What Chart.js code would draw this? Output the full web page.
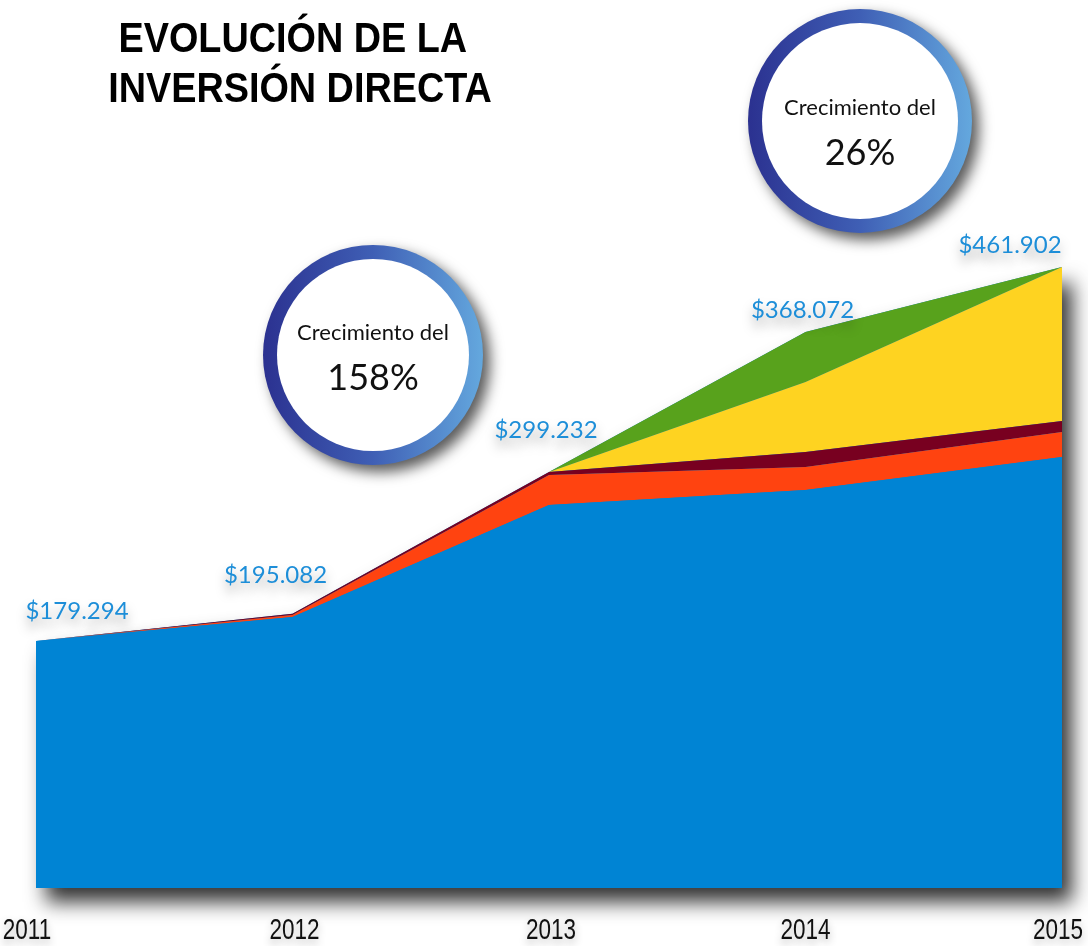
<!DOCTYPE html>
<html>
<head>
<meta charset="utf-8">
<script src="https://cdn.jsdelivr.net/npm/chart.js@4/dist/chart.umd.min.js"></script>
<style>
  html, body { margin: 0; padding: 0; background: #fff; }
  #wrap { width: 1088px; height: 946px; position: relative; }
</style>
</head>
<body>
<div id="wrap"><canvas id="areaInversion"></canvas></div>
<script>
// Datos (miles de dólares)
const years = ['2011', '2012', '2013', '2014', '2015'];
const serieAzul   = [179.0, 196.4, 277.5, 288.4, 312.3];
const serieRoja   = [0, 1.5, 21.7, 16.7, 18.1];
const serieGranate = [0, 0.8, 2.2, 10.9, 8.0];
const serieAmarilla = [0, 0, 0, 50.7, 111.6];
const serieVerde  = [0, 0, 0, 36.2, 0];
const totalLabels = ['$179.294', '$195.082', '$299.232', '$368.072', '$461.902'];
const crecimientos = ['158%', '26%'];

const colores = {
    azul: '#0084d4',
    roja: '#ff4310',
    granate: '#780020',
    amarilla: '#fed321',
    verde: '#58a21c'
};

// sombra bajo toda el área apilada
const sombraArea = {
    id: 'sombraArea',
    beforeDatasetsDraw(chart) {
        const ctx = chart.ctx;
        const top = chart.getDatasetMeta(chart.data.datasets.length - 1).data;
        const bottom = chart.chartArea.bottom;
        ctx.save();
        ctx.shadowColor = 'rgba(0,0,0,0.8)';
        ctx.shadowBlur = 20;
        ctx.shadowOffsetX = 10;
        ctx.shadowOffsetY = 14;
        ctx.beginPath();
        ctx.moveTo(top[0].x, bottom);
        top.forEach(p => ctx.lineTo(p.x, p.y));
        ctx.lineTo(top[top.length - 1].x, bottom);
        ctx.closePath();
        ctx.fillStyle = colores.azul;
        ctx.fill();
        ctx.restore();
    }
};

// etiquetas de totales y años
const etiquetas = {
    id: 'etiquetas',
    afterDatasetsDraw(chart) {
        const ctx = chart.ctx;
        const top = chart.getDatasetMeta(chart.data.datasets.length - 1).data;
        const dx = [41, -17, -3, -3, -52];
        const dy = [-30, -39, -42, -22, -22];
        ctx.save();
        ctx.font = '24px Lato, "Noto Sans", sans-serif';
        ctx.textAlign = 'center';
        ctx.textBaseline = 'middle';
        ctx.fillStyle = '#1d8ed8';
        ctx.shadowColor = 'rgba(0,0,0,0.35)';
        ctx.shadowBlur = 12;
        ctx.shadowOffsetY = 8;
        top.forEach((p, i) => ctx.fillText(totalLabels[i], p.x + dx[i], p.y + dy[i]));
        ctx.restore();

        // años bajo el eje (fuente condensada)
        const xs = chart.scales.x;
        const ydx = [-9, 2, 2, 0, -4];
        ctx.save();
        ctx.fillStyle = '#111';
        ctx.textAlign = 'center';
        ctx.textBaseline = 'middle';
        ctx.font = '30px "Liberation Sans", Arial, sans-serif';
        ctx.shadowColor = 'rgba(0,0,0,0.3)';
        ctx.shadowBlur = 8;
        ctx.shadowOffsetY = 4;
        years.forEach((y, i) => {
            const px = xs.getPixelForValue(i) + ydx[i];
            ctx.save();
            ctx.translate(px, chart.chartArea.bottom + 43);
            ctx.scale(0.75, 1);
            ctx.fillText(y, 0, 0);
            ctx.restore();
        });
        ctx.restore();
    }
};

function circulo(ctx, cx, cy, r, pct, off) {
    ctx.save();
    ctx.shadowColor = 'rgba(0,0,0,0.65)';
    ctx.shadowBlur = 14;
    ctx.shadowOffsetX = 7;
    ctx.shadowOffsetY = 7;
    const grad = ctx.createLinearGradient(cx - r, 0, cx + r, 0);
    grad.addColorStop(0, '#2b3190');
    grad.addColorStop(0.5, '#3f5fb5');
    grad.addColorStop(1, '#64a8de');
    ctx.beginPath();
    ctx.arc(cx, cy, r, 0, Math.PI * 2);
    ctx.fillStyle = grad;
    ctx.fill();
    ctx.restore();

    ctx.save();
    ctx.beginPath();
    ctx.arc(cx, cy, r - 14, 0, Math.PI * 2);
    ctx.fillStyle = '#fff';
    ctx.fill();
    ctx.fillStyle = '#111';
    ctx.textAlign = 'center';
    ctx.textBaseline = 'middle';
    ctx.font = '22px Lato, "Noto Sans", sans-serif';
    ctx.fillText('Crecimiento del', cx, cy - 22 + off);
    ctx.font = '36px Lato, "Noto Sans", sans-serif';
    ctx.fillText(pct, cx, cy + 23 + off);
    ctx.restore();
}

const decoracion = {
    id: 'decoracion',
    afterDraw(chart) {
        const ctx = chart.ctx;
        // título
        ctx.save();
        ctx.fillStyle = '#000';
        ctx.textAlign = 'center';
        ctx.textBaseline = 'middle';
        ctx.font = 'bold 42px "Liberation Sans", Arial, sans-serif';
        ctx.translate(300, 0);
        ctx.scale(0.9, 1);
        ctx.fillText('EVOLUCIÓN DE LA', -8, 40);
        ctx.fillText('INVERSIÓN DIRECTA', 0, 90);
        ctx.restore();

        circulo(ctx, 373, 355, 110, crecimientos[0], 0);
        circulo(ctx, 860, 121, 112, crecimientos[1], 9);
    }
};

const capa = (label, data, color, fill) => ({
    label: label,
    data: data,
    backgroundColor: color,
    borderColor: color,
    borderWidth: 0,
    pointRadius: 0,
    tension: 0,
    fill: fill
});

new Chart(document.getElementById('areaInversion'), {
    type: 'line',
    data: {
        labels: years,
        datasets: [
            capa('Serie 1', serieAzul, colores.azul, 'origin'),
            capa('Serie 2', serieRoja, colores.roja, '-1'),
            capa('Serie 3', serieGranate, colores.granate, '-1'),
            capa('Serie 4', serieAmarilla, colores.amarilla, '-1'),
            capa('Serie 5', serieVerde, colores.verde, '-1')
        ]
    },
    options: {
        responsive: true,
        maintainAspectRatio: false,
        animation: false,
        layout: { padding: { top: 60, left: 36, right: 26, bottom: 58 } },
        plugins: {
            legend: { display: false },
            tooltip: { enabled: false }
        },
        scales: {
            x: {
                display: false,
                offset: false
            },
            y: {
                display: false,
                stacked: true,
                min: 0,
                max: 600
            }
        }
    },
    plugins: [sombraArea, etiquetas, decoracion]
});
</script>
</body>
</html>
